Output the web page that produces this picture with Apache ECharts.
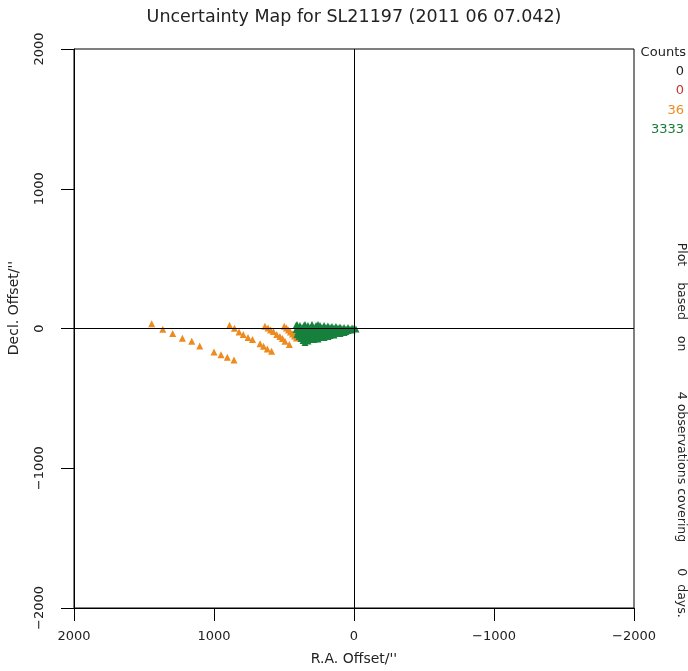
<!DOCTYPE html>
<html>
<head>
<meta charset="utf-8">
<script src="https://cdn.jsdelivr.net/npm/echarts@6/dist/echarts.min.js"></script>
<style>
html,body{margin:0;padding:0;background:#fff;}
#chart{width:688px;height:671px;}
</style>
</head>
<body>
<div id="chart"></div>
<script>
// ---- data (R.A. offset, Decl. offset in arcsec) ----
var titleText = "Uncertainty Map for SL21197 (2011 06 07.042)";
var xTicks = [2000, 1000, 0, -1000, -2000];
var yTicks = [-2000, -1000, 0, 1000, 2000];
var countLabels = ["0", "0", "36", "3333"];
var countColors = ["#222222", "#c83232", "#ee8c22", "#1a7a3c"];
var sideLabels = ["Plot    based    on", "4 observations covering", "0  days."];

var orangePoints = [
  [1445,34],[1366,-5],[1295,-36],[1226,-69],[1159,-91],[1102,-126],[1000,-169],[950,-188],[905,-205],[857,-226],
  [889,23],[854,1],[821,-25],[791,-43],[757,-64],[725,-79],[671,-109],[646,-127],[619,-146],[589,-162],
  [636,16],[614,4],[596,-11],[576,-21],[552,-43],[529,-57],[511,-71],[493,-91],[462,-114],
  [498,16],[482,4],[468,-11],[454,-25],[439,-39],[425,-54],[411,-68]
];

var greenPoints = [
  [414,21],[400,7],[386,-7],[371,-21],[357,-36],[343,-50],[329,-64],[314,-79],
  [386,21],[371,7],[357,-7],[343,-21],[329,-36],[314,-50],[300,-64],[286,-79],
  [357,21],[343,7],[329,-7],[314,-21],[300,-36],[286,-50],[271,-64],[257,-75],
  [329,21],[314,7],[300,-7],[286,-21],[271,-36],[257,-50],[243,-64],
  [300,21],[286,7],[271,-7],[257,-21],[243,-36],[229,-50],[214,-64],
  [271,21],[257,7],[243,-7],[229,-21],[214,-36],[200,-50],[186,-57],
  [243,21],[229,7],[214,-7],[200,-21],[186,-36],[171,-50],
  [214,21],[200,7],[186,-7],[171,-21],[157,-36],[143,-46],
  [186,18],[171,7],[157,-7],[143,-21],[129,-36],
  [157,14],[143,4],[129,-7],[114,-21],[100,-36],
  [129,14],[114,4],[100,-7],[86,-21],[71,-29],
  [100,11],[86,0],[71,-11],[57,-21],
  [71,7],[57,-4],[43,-14],
  [43,7],[29,-4],[14,-11],
  [14,4],[0,0],[-14,-4],
  [414,-7],[400,-21],[386,-36],[371,-50],[357,-64],[343,-79],[329,-89],
  [407,-43],[393,-57],[379,-71],[364,-86],[350,-100],
  [407,29],[350,29],[300,29],[257,29]
];

var FONT = "DejaVu Sans";
var TXT = "#222";
function fmt(v){ return String(v).replace('-', '\u2212'); }

var chart = echarts.init(document.getElementById('chart'), null, {renderer:'canvas'});

var legendGraphics = [{
  type:'text', right: 2, top: 46,
  style:{text:'Counts', font:'13px "'+FONT+'"', fill:TXT}
}];
countLabels.forEach(function(t,i){
  legendGraphics.push({
    type:'text', right: 4, top: 65 + i*19.5,
    style:{text:t, font:'13px "'+FONT+'"', fill:countColors[i]}
  });
});

var sideY = [297, 467, 593];
var sideGraphics = sideLabels.map(function(t, i){
  return {
    type:'text', x:681, y:sideY[i], rotation:-Math.PI/2,
    style:{text:t, font:'12.5px "'+FONT+'"', fill:TXT, align:'center', verticalAlign:'middle'}
  };
});

var option = {
  animation:false,
  backgroundColor:'#fff',
  grid:{left:74, right:54, top:49, bottom:62, show:true, borderColor:'#000', borderWidth:1, backgroundColor:'transparent'},
  xAxis:{
    type:'value', min:-2000, max:2000, interval:1000, inverse:true,
    name:"R.A. Offset/''", nameLocation:'middle', nameGap:44,
    nameTextStyle:{fontFamily:FONT, fontSize:14, color:TXT},
    axisLine:{show:true, onZero:false, lineStyle:{color:'#000', width:1}},
    axisTick:{show:true, inside:false, length:13, lineStyle:{color:'#000'}},
    axisLabel:{show:true, margin:22, fontFamily:FONT, fontSize:13, color:TXT, formatter:fmt},
    splitLine:{show:false}
  },
  yAxis:{
    type:'value', min:-2000, max:2000, interval:1000,
    axisLine:{show:true, onZero:false, lineStyle:{color:'#000', width:1}},
    axisTick:{show:true, inside:false, length:13, lineStyle:{color:'#000'}},
    axisLabel:{show:true, rotate:90, margin:28, fontFamily:FONT, fontSize:13, color:TXT, formatter:fmt},
    splitLine:{show:false}
  },
  graphic:[
    {type:'text', x:354, y:17, style:{text:titleText, font:'17.5px "'+FONT+'"', fill:TXT, align:'center', verticalAlign:'middle'}},
    {type:'text', x:14, y:308, rotation:Math.PI/2, style:{text:"Decl. Offset/''", font:'14px "'+FONT+'"', fill:TXT, align:'center', verticalAlign:'middle'}}
  ].concat(legendGraphics).concat(sideGraphics),
  series:[
    {
      type:'scatter', name:'36', data:orangePoints, symbol:'triangle', symbolSize:7,
      itemStyle:{color:'#ee8a1e', opacity:1}, silent:true,
      markLine:{
        silent:true, symbol:['none','none'], label:{show:false},
        lineStyle:{color:'#000', width:1, type:'solid'},
        data:[{xAxis:0},{yAxis:0}]
      }
    },
    {
      type:'scatter', name:'3333', data:greenPoints, symbol:'triangle', symbolSize:7,
      itemStyle:{color:'#16803c', opacity:1}, silent:true
    }
  ]
};
chart.setOption(option);
</script>
</body>
</html>
